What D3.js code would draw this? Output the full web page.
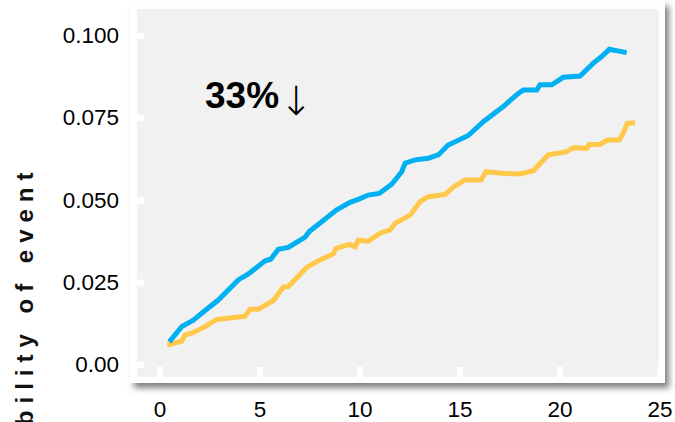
<!DOCTYPE html>
<html>
<head>
<meta charset="utf-8">
<script src="https://cdn.jsdelivr.net/npm/d3@7"></script>
<style>
  html, body { margin: 0; padding: 0; background: #ffffff; }
  svg { display: block; }
</style>
</head>
<body>
<svg id="chart" width="675" height="422"></svg>
<script>
// Cumulative probability of event over time, two groups
const blueX = [0.49, 1.11, 1.69, 2.28, 2.94, 3.94, 4.44, 5.28, 5.56, 5.94, 6.44, 7.28, 7.49, 8.11, 8.86, 9.53, 9.94, 10.44, 10.99, 11.61, 12.11, 12.28, 12.78, 13.44, 13.94, 14.44, 15.44, 16.19, 17.19, 17.94, 18.19, 18.86, 19.03, 19.61, 20.19, 21.03, 21.69, 22.11, 22.49, 23.36];
const blueY = [0.0069, 0.0115, 0.0135, 0.0164, 0.0196, 0.0257, 0.0275, 0.0315, 0.0320, 0.0350, 0.0356, 0.0387, 0.0404, 0.0434, 0.0470, 0.0493, 0.0502, 0.0515, 0.0520, 0.0548, 0.0586, 0.0612, 0.0622, 0.0627, 0.0637, 0.0667, 0.0696, 0.0738, 0.0784, 0.0824, 0.0834, 0.0834, 0.0850, 0.0850, 0.0873, 0.0877, 0.0916, 0.0936, 0.0958, 0.0948];

const yellowX = [0.39, 1.11, 1.28, 1.61, 2.28, 2.86, 4.28, 4.53, 4.94, 5.69, 6.19, 6.44, 7.36, 8.03, 8.69, 8.83, 9.49, 9.78, 9.94, 10.44, 11.03, 11.53, 11.78, 12.53, 13.03, 13.44, 14.28, 14.69, 15.28, 16.08, 16.33, 17.11, 18.03, 18.69, 19.44, 20.36, 20.69, 21.36, 21.49, 22.03, 22.39, 22.99, 23.22, 23.39, 23.78];
const yellowY = [0.0059, 0.0071, 0.0090, 0.0095, 0.0115, 0.0137, 0.0147, 0.0168, 0.0168, 0.0194, 0.0235, 0.0237, 0.0295, 0.0318, 0.0336, 0.0353, 0.0365, 0.0358, 0.0378, 0.0375, 0.0399, 0.0409, 0.0429, 0.0454, 0.0495, 0.0510, 0.0517, 0.0539, 0.0561, 0.0561, 0.0586, 0.0581, 0.0579, 0.0589, 0.0637, 0.0647, 0.0659, 0.0657, 0.0669, 0.0669, 0.0682, 0.0682, 0.0708, 0.0733, 0.0735];

const xTicks = [0, 5, 10, 15, 20, 25];
const yTicks = [0, 0.025, 0.05, 0.075, 0.1];
const yTickLabels = ["0.00", "0.025", "0.050", "0.075", "0.100"];
const annotation = "33%";
const arrow = "\u2193";
const yTitle = "Probability of event";

const svg = d3.select("#chart");
const FONT = "'Liberation Sans', Arial, Helvetica, sans-serif";

// card with drop shadow
const defs = svg.append("defs");
const shadow = defs.append("filter").attr("id", "cardShadow")
  .attr("x", "-5%").attr("y", "-5%").attr("width", "115%").attr("height", "115%");
shadow.append("feDropShadow")
  .attr("dx", 4).attr("dy", 5).attr("stdDeviation", 3)
  .attr("flood-color", "#000").attr("flood-opacity", 0.5);

svg.append("rect")
  .attr("x", 130).attr("y", 1).attr("width", 535).attr("height", 382)
  .attr("fill", "#ffffff").attr("filter", "url(#cardShadow)");

// plotting panel
const panel = { left: 137, top: 9, right: 659, bottom: 377 };
svg.append("rect")
  .attr("x", panel.left).attr("y", panel.top)
  .attr("width", panel.right - panel.left).attr("height", panel.bottom - panel.top)
  .attr("fill", "#f1f1f1");

const x = d3.scaleLinear().domain([0, 25]).range([159.5, 659.5]);
const y = d3.scaleLinear().domain([0, 0.1]).range([364.5, 35.5]);

// x axis: white inward ticks, labels below the card
const xAxis = svg.append("g")
  .attr("transform", `translate(0,${panel.bottom})`)
  .call(d3.axisBottom(x).tickValues(xTicks).tickSize(-10).tickPadding(24).tickFormat(d3.format("d")));
xAxis.select(".domain").remove();
xAxis.selectAll(".tick line").attr("stroke", "#ffffff").attr("stroke-width", 6);
xAxis.selectAll(".tick text")
  .attr("font-family", FONT).attr("font-size", 22.5).attr("fill", "#000");

// y axis
const yAxis = svg.append("g")
  .attr("transform", `translate(${panel.left},0)`)
  .call(d3.axisLeft(y).tickValues(yTicks).tickSize(-7).tickPadding(18)
    .tickFormat((d, i) => yTickLabels[i]));
yAxis.select(".domain").remove();
yAxis.selectAll(".tick line").attr("stroke", "#ffffff").attr("stroke-width", 6);
yAxis.selectAll(".tick text")
  .attr("font-family", FONT).attr("font-size", 22.5).attr("fill", "#000");

// lines
const line = d3.line().x(d => x(d[0])).y(d => y(d[1]));
const blue = blueX.map((v, i) => [v, blueY[i]]);
const yellow = yellowX.map((v, i) => [v, yellowY[i]]);

svg.append("path").datum(yellow)
  .attr("d", line).attr("fill", "none")
  .attr("stroke", "#ffc84a").attr("stroke-width", 5);
svg.append("path").datum(blue)
  .attr("d", line).attr("fill", "none")
  .attr("stroke", "#00b0f0").attr("stroke-width", 5);

// annotation: bold percentage followed by a thin down arrow
svg.append("text")
  .attr("x", 205).attr("y", 107.5)
  .attr("font-family", FONT).attr("font-size", 37).attr("font-weight", "bold").attr("fill", "#000")
  .text(annotation);
svg.append("text")
  .attr("x", 296).attr("y", 115)
  .attr("text-anchor", "middle")
  .attr("font-family", "'DejaVu Sans', sans-serif").attr("font-size", 40).attr("font-weight", 200)
  .attr("fill", "#000")
  .text(arrow);

// y axis title
svg.append("text")
  .attr("transform", "translate(33,165.5) rotate(-90)")
  .attr("text-anchor", "end")
  .attr("font-family", FONT).attr("font-size", 24).attr("font-weight", "bold")
  .attr("letter-spacing", 7).attr("fill", "#111")
  .text(yTitle);
</script>
</body>
</html>
